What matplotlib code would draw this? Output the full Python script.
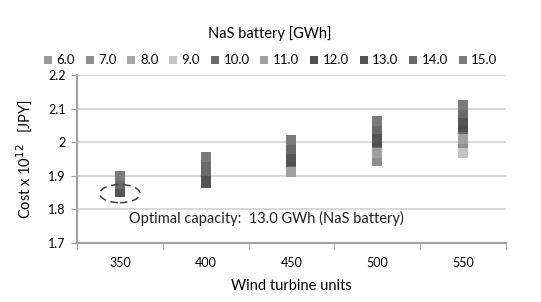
import numpy as np
import matplotlib
matplotlib.use("Agg")
import matplotlib.pyplot as plt
from matplotlib.patches import Ellipse

plt.rcParams['font.family'] = ['Lato', 'DejaVu Sans']

# data
turbines = ['350', '400', '450', '500', '550']
nan = np.nan
cap_6 = [nan, nan, nan, nan, 2.000]
cap_7 = [nan, nan, nan, 1.945, 1.990]
cap_8 = [nan, nan, nan, nan, nan]
cap_9 = [nan, nan, nan, nan, 1.968]
cap_10 = [nan, 1.905, 1.930, 1.985, 2.020]
cap_11 = [nan, nan, 1.911, 1.968, 2.008]
cap_12 = [1.862, 1.885, 1.945, 2.000, 2.045]
cap_13 = [1.853, 1.880, 1.955, 2.012, 2.065]
cap_14 = [1.875, 1.925, 1.980, 2.038, 2.088]
cap_15 = [1.898, 1.955, 2.006, 2.062, 2.111]

series = [('6.0', cap_6), ('7.0', cap_7), ('8.0', cap_8), ('9.0', cap_9),
          ('10.0', cap_10), ('11.0', cap_11), ('12.0', cap_12),
          ('13.0', cap_13), ('14.0', cap_14), ('15.0', cap_15)]
colors = ['#9a9a9a', '#8f8f8f', '#a8a8a8', '#c4c4c4', '#6a6a6a',
          '#a0a0a0', '#505050', '#555555', '#6a6a6a', '#7a7a7a']

fig = plt.figure(figsize=(5.41, 3.02), dpi=100)
ax = fig.add_axes([0.1423, 0.1954, 0.7927, 0.5563])

x = np.arange(len(turbines))
for (name, vals), c in zip(series, colors):
    ax.scatter(x, vals, marker='s', s=46, color=c, label=name,
               linewidths=0, zorder=3)

ax.set_xlim(-0.5, len(turbines) - 0.5)
ax.set_ylim(1.7, 2.2)
ax.set_yticks([1.7, 1.8, 1.9, 2.0, 2.1, 2.2])
ax.set_yticklabels(['1.7', '1.8', '1.9', '2', '2.1', '2.2'])
ax.set_xticks(x)
ax.set_xticklabels(turbines)
ax.set_xticks(np.arange(len(turbines) + 1) - 0.5, minor=True)
ax.tick_params(axis='x', which='major', length=0, pad=10, labelsize=9)
ax.tick_params(axis='x', which='minor', length=4, color='#a0a0a0')
ax.tick_params(axis='y', length=4, color='#a0a0a0', labelsize=9, pad=4)
ax.grid(axis='y', color='#d9d9d9', linewidth=1.5, zorder=0)
ax.set_axisbelow(True)
for s in ['top', 'right']:
    ax.spines[s].set_visible(False)
for s in ['left', 'bottom']:
    ax.spines[s].set_color('#a0a0a0')
    ax.spines[s].set_linewidth(1.5)

ax.set_xlabel('Wind turbine units', fontsize=10.5, labelpad=7)
ax.set_ylabel('Cost x 10$^{12}$   [JPY]', fontsize=10.5, labelpad=10)

# optimal point marker and note
ax.add_patch(Ellipse((0, 1.847), 0.47, 0.054, fill=False, ls=(0, (5, 3)),
                     ec='#404040', lw=1.1, zorder=4))
ax.text(0.11, 1.772, 'Optimal capacity:  13.0 GWh (NaS battery)',
        fontsize=10.5, va='center', ha='left', color='#222222')

leg = fig.legend(loc='center', bbox_to_anchor=(0.498, 0.848), ncol=10,
                 frameon=False, fontsize=9.5, handletextpad=0.15,
                 columnspacing=0.62, handlelength=1.0, markerscale=0.95,
                 title='NaS battery [GWh]')
leg.get_title().set_fontsize(10.5)
leg._legend_box.sep = 9

fig.savefig('out.png', dpi=100)
